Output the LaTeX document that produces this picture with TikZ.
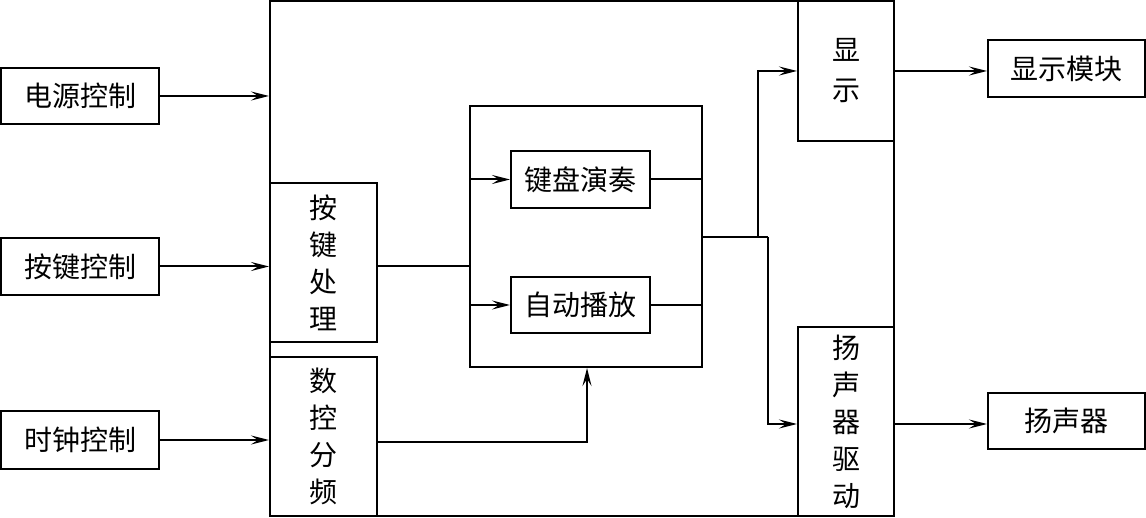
\documentclass[tikz,border=0pt]{standalone}
\usepackage{fontspec}
\newfontfamily\cjk{Noto Sans CJK SC}
\usetikzlibrary{arrows.meta}
\begin{document}
\begin{tikzpicture}[x=1pt,y=-1pt,
  box/.style={draw,line width=2pt,inner sep=0pt,align=center,font=\cjk\fontsize{28}{37}\selectfont},
  conn/.style={line width=2pt},
  arr/.style={line width=2pt,-{Stealth[length=18pt,width=9pt,inset=7pt]}}]
\useasboundingbox (0,0) rectangle (1146,518);
% outer frame
\node[box,minimum width=624pt,minimum height=515pt] (outer) at (582,258.5) {};
% inputs
\node[box,minimum width=158pt,minimum height=56pt] (dy) at (80,96) {电源控制};
\node[box,minimum width=158pt,minimum height=57pt] (aj) at (80,266.5) {按键控制};
\node[box,minimum width=158pt,minimum height=57pt] (sz) at (80,440) {时钟控制};
% inner left blocks
\node[box,minimum width=107pt,minimum height=159pt] (ajcl) at (323.5,262.5) {按\\键\\处\\理};
\node[box,minimum width=107pt,minimum height=159pt] (skfp) at (323.5,436.5) {数\\控\\分\\频};
% center
\node[box,minimum width=232pt,minimum height=261pt] (mid) at (586,236.5) {};
\node[box,minimum width=139pt,minimum height=57pt] (jp) at (580.5,179.5) {键盘演奏};
\node[box,minimum width=139pt,minimum height=56pt] (zd) at (580.5,305) {自动播放};
% right blocks
\node[box,minimum width=96pt,minimum height=140pt] (xs) at (846,71) {显\\[3pt]示};
\node[box,minimum width=96pt,minimum height=189pt] (ysqd) at (846,421.5) {扬\\声\\器\\驱\\动};
\node[box,minimum width=157pt,minimum height=57pt] (xsmk) at (1066.5,68.5) {显示模块};
\node[box,minimum width=157pt,minimum height=56pt] (ysq) at (1066.5,421) {扬声器};
% coordinates
\coordinate (ajout) at (377,266);
\coordinate (midin) at (470,266);
\coordinate (midout) at (702,237);
\coordinate (j1) at (758,237);
\coordinate (j2) at (768,237);
\coordinate (skup) at (587,442);
% connectors
\draw[arr] (dy.east) -- (dy.east -| outer.west);
\draw[arr] (aj.east) -- (aj.east -| outer.west);
\draw[arr] (sz.east) -- (sz.east -| skfp.west);
\draw[conn] (ajout) -- (midin);
\draw[arr] (jp.west -| mid.west) -- (jp.west);
\draw[arr] (zd.west -| mid.west) -- (zd.west);
\draw[conn] (jp.east) -- (jp.east -| mid.east);
\draw[conn] (zd.east) -- (zd.east -| mid.east);
\draw[conn] (midout) -- (j2);
\draw[arr] (j1) -- (j1 |- xs.west) -- (xs.west);
\draw[arr] (j2) -- (j2 |- 0,424) -- (ysqd.west |- 0,424);
\draw[arr] (skfp.east |- skup) -- (skup) -- (skup |- mid.south);
\draw[arr] (xs.east) -- (xs.east -| xsmk.west);
\draw[arr] (ysqd.east |- 0,424) -- (ysq.west |- 0,424);
\end{tikzpicture}
\end{document}
